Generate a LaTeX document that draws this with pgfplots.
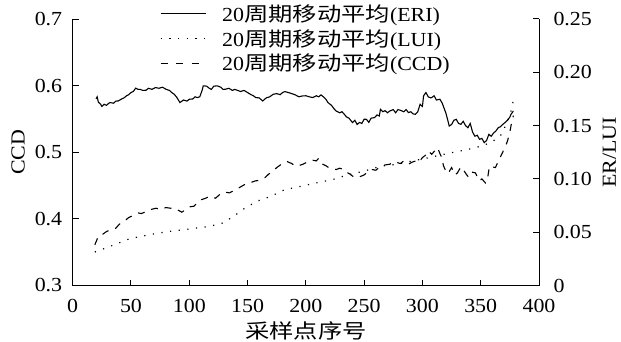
\documentclass[border=0pt]{standalone}
\usepackage{pgfplots}
\pgfplotsset{compat=1.18}
\usepackage{fontspec}
\setmainfont{Liberation Serif}[FakeStretch=1.1]
\newfontfamily\cjk{Noto Sans CJK SC}[FakeStretch=1.22]
\begin{document}
\begin{tikzpicture}[font=\fontsize{20}{22.5}\selectfont]
\pgfplotsset{
  common/.style={
    scale only axis, width=466.3bp, height=266.5bp,
    xmin=0, xmax=400,
    tick align=inside, major tick length=6bp,
    axis line style={-, line width=1pt},
    every tick/.style={line width=1pt, black},
    /pgf/number format/assume math mode=true,
    clip=false,
  }
}
\begin{axis}[common,
  ymin=0.3, ymax=0.7,
  axis x line*=bottom, axis y line*=left,
  xtick={0,50,100,150,200,250,300,350,400},
  ytick={0.3,0.4,0.5,0.6,0.7},
  yticklabels={0.3,0.4,0.5,0.6,0.7},
  xticklabel style={yshift=-10bp},
  yticklabel style={xshift=-7bp},
  ylabel={CCD},
  xlabel={\cjk 采样点序号},
  xlabel style={yshift=-2bp},
  ylabel style={yshift=3bp},
]
\addplot[black, line width=1.1pt, dash pattern=on 7bp off 7bp] coordinates {
(19,0.361) (22,0.374) (25,0.376) (29,0.381) (33,0.384) (37,0.386) (40,0.392) (44,0.396) (48,0.402) (53,0.406) (56,0.409) (59,0.408) (63,0.411) (67,0.414) (71.5,0.416) (75,0.414) (80,0.417) (84,0.416) (88.5,0.415) (93.6,0.410) (97,0.414) (100,0.418) (104,0.419) (107,0.424) (110.6,0.429) (114,0.431) (117.5,0.434) (122.5,0.431) (127.7,0.439) (131,0.440) (134.5,0.439) (141,0.445) (145,0.449) (148,0.452) (152,0.454) (156.6,0.457) (161,0.458) (165,0.462) (168,0.467) (172,0.472) (175,0.477) (179,0.482) (184,0.486) (188,0.483) (191,0.479) (194,0.480) (197.5,0.482) (201,0.485) (206,0.488) (209,0.487) (211,0.491) (214.5,0.482) (217,0.480) (219.6,0.477) (223,0.476) (226,0.474) (229,0.476) (233,0.474) (236,0.469) (238,0.467) (241,0.463) (243,0.462) (246,0.463) (250,0.466) (253,0.470) (257,0.474) (260,0.473) (264,0.479) (268,0.481) (272,0.482) (276,0.486) (281,0.483) (284,0.487) (288,0.482) (291,0.485) (294.5,0.487) (297,0.485) (300,0.492) (303,0.496) (305,0.502) (308,0.497) (311,0.503) (313,0.507) (315,0.498) (316.6,0.492) (318,0.480) (320,0.472) (322,0.468) (325,0.477) (328,0.466) (330,0.469) (333,0.478) (335,0.474) (338,0.466) (340,0.462) (343,0.470) (345.5,0.469) (347,0.463) (349,0.457) (351,0.460) (354,0.454) (356,0.462) (357.5,0.479) (360,0.478) (362.6,0.477) (365,0.486) (368,0.497) (371,0.508) (373,0.517) (375,0.530) (376,0.540) (378,0.555)
};
\end{axis}
\begin{axis}[common,
  ymin=0, ymax=0.25,
  axis x line=none, axis y line*=right,
  ytick={0,0.05,0.10,0.15,0.20,0.25},
  yticklabels={0,0.05,0.10,0.15,0.20,0.25},
  yticklabel style={xshift=11bp},
  ylabel={ER/LUI},
  ylabel style={yshift=-4bp},
  legend style={at={(0.5,1.062)}, anchor=north, draw=none, fill=none,
    row sep=2.5bp, inner sep=0pt, font=\fontsize{20}{22.5}\selectfont,
    /tikz/every odd column/.append style={column sep=14bp}},
  legend cell align=left,
  legend image code/.code={\draw[#1] (0bp,0bp) -- (45bp,0bp);},
]
\addplot[black, line width=1.1pt] coordinates {
(20,0.175) (21,0.177) (22,0.172) (24,0.170) (25,0.168) (27,0.170) (29,0.169) (31,0.171) (32,0.1716) (35,0.171) (37,0.173) (39,0.1731) (42,0.175) (44,0.176) (46,0.1778) (48,0.179) (50,0.181) (52,0.182) (54,0.1851) (56,0.184) (58,0.184) (60,0.183) (63,0.1832) (65,0.185) (68,0.184) (71,0.1857) (74,0.185) (77,0.186) (80,0.1841) (83,0.183) (85,0.181) (87,0.1794) (89,0.177) (92,0.1716) (95,0.174) (98,0.173) (100,0.1747) (103,0.175) (105,0.177) (107,0.1763) (109,0.177) (111,0.183) (112,0.1873) (115,0.187) (117,0.1851) (119,0.184) (121,0.187) (124,0.1873) (127,0.186) (129,0.184) (131,0.1841) (134,0.185) (137,0.183) (139,0.184) (141,0.1832) (144,0.182) (147,0.183) (150,0.1810) (153,0.179) (155,0.178) (157,0.1763) (160,0.176) (163,0.1731) (166,0.176) (169,0.177) (172,0.1794) (175,0.180) (178,0.179) (180,0.181) (182,0.1819) (185,0.181) (188,0.180) (191,0.1788) (194,0.177) (197,0.1778) (200,0.178) (203,0.177) (206,0.1763) (209,0.178) (211,0.177) (213,0.1788) (215,0.177) (217,0.175) (219,0.1716) (222,0.169) (224,0.166) (226,0.1637) (229,0.162) (231,0.163) (233,0.1606) (235,0.158) (237,0.157) (240,0.1528) (242,0.155) (244,0.151) (246,0.153) (248,0.152) (250,0.156) (252,0.1559) (254,0.153) (256,0.157) (259,0.1575) (261,0.160) (263,0.159) (264,0.1653) (266,0.163) (268,0.164) (270,0.162) (272,0.1637) (275,0.165) (277,0.162) (279,0.165) (281,0.1644) (284,0.163) (286,0.165) (288,0.1622) (290,0.163) (292,0.161) (294,0.1606) (296,0.163) (298,0.1700) (300,0.168) (301,0.178) (303,0.1810) (305,0.177) (307,0.176) (308,0.1763) (310,0.178) (312,0.174) (315,0.1747) (317,0.171) (319,0.165) (320,0.1622) (322,0.154) (323,0.1496) (325,0.151) (327,0.155) (329,0.1559) (331,0.152) (333,0.1512) (335,0.154) (337,0.150) (339,0.148) (341,0.152) (343,0.144) (345,0.140) (347,0.141) (349,0.1371) (351,0.138) (353,0.134) (355,0.136) (357,0.1418) (359,0.140) (361,0.143) (363,0.1449) (365,0.148) (367,0.149) (369,0.1512) (371,0.153) (373,0.155) (375,0.158) (376,0.1606) (378,0.1637)
};
\addlegendentry{20{\cjk 周期移动平均}(ERI)}
\addplot[black, line width=1.2pt, dash pattern=on 1.2bp off 7.5bp] coordinates {
(19,0.0314) (32,0.0367) (49,0.0439) (66,0.0477) (83,0.0508) (100,0.0530) (117.5,0.0555) (129,0.0587) (138,0.0649) (148,0.0728) (158,0.0790) (170,0.0837) (182,0.0900) (196,0.0931) (209,0.0963) (223,0.0994) (237,0.1041) (250,0.1073) (264,0.1120) (277,0.1135) (291,0.1167) (305,0.1198) (318,0.1230) (332,0.1261) (345.5,0.1292) (359,0.1340) (368,0.1418) (373,0.1543) (376,0.1637) (378,0.1738)
};
\addlegendentry{20{\cjk 周期移动平均}(LUI)}
\addlegendimage{black, line width=1.1pt, dash pattern=on 7bp off 8.5bp}
\addlegendentry{20{\cjk 周期移动平均}(CCD)}
\end{axis}
\pgfresetboundingbox
\path (-72.7bp,-56.5bp) rectangle (548.3bp,285.5bp);
\end{tikzpicture}
\end{document}
